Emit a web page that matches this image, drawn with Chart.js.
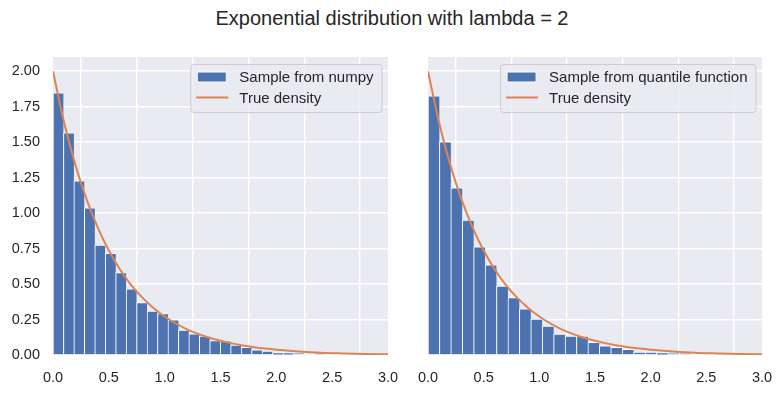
<!DOCTYPE html>
<html>
<head>
<meta charset="utf-8">
<script src="https://cdn.jsdelivr.net/npm/chart.js@4.4.0/dist/chart.umd.min.js"></script>
<style>
  html, body { margin: 0; padding: 0; background: #fff; }
  #wrap { position: relative; width: 784px; height: 393px; overflow: hidden; }
  #title { position: absolute; left: 0; top: 7px; width: 784px; text-align: center;
           font: 20px "Liberation Sans", Arial, sans-serif; color: #262626; }
  canvas { position: absolute; top: 0; }
  #leftChart { left: 0; }
  #rightChart { left: 400px; }
</style>
</head>
<body>
<div id="wrap">
  <div id="title">Exponential distribution with lambda = 2</div>
  <canvas id="leftChart" width="420" height="393"></canvas>
  <canvas id="rightChart" width="384" height="393"></canvas>
</div>
<script>
// histogram of the numpy sample (density), bins start at 0
const numpyBinWidth = 0.0936;
const numpyDensity = [1.847, 1.566, 1.228, 1.037, 0.775, 0.716, 0.580, 0.467, 0.370, 0.310,
  0.292, 0.248, 0.176, 0.150, 0.134, 0.101, 0.099, 0.070, 0.054, 0.037,
  0.028, 0.016, 0.016, 0.012, 0, 0.012];

// histogram of the quantile-function sample
const quantileBinWidth = 0.1026;
const quantileDensity = [1.826, 1.502, 1.178, 0.951, 0.763, 0.636, 0.486, 0.404, 0.325, 0.254,
  0.203, 0.148, 0.134, 0.134, 0.089, 0.064, 0.054, 0.040, 0.021, 0.021,
  0.016, 0.012, 0.010];

// true density curve
const densityX = [0, 0.1, 0.2, 0.3, 0.4, 0.5, 0.6, 0.7, 0.8, 0.9, 1.0, 1.1, 1.2, 1.3, 1.4,
  1.5, 1.6, 1.7, 1.8, 1.9, 2.0, 2.2, 2.4, 2.6, 2.8, 3.0];
const densityY = [2.0, 1.637, 1.341, 1.098, 0.899, 0.736, 0.602, 0.493, 0.404, 0.331, 0.271,
  0.222, 0.181, 0.149, 0.122, 0.100, 0.082, 0.067, 0.055, 0.045, 0.037, 0.025,
  0.016, 0.011, 0.007, 0.005];

const xTicks = [0, 0.5, 1.0, 1.5, 2.0, 2.5, 3.0];
const yTicks = [0, 0.25, 0.5, 0.75, 1.0, 1.25, 1.5, 1.75, 2.0];

const FONT = '"Liberation Sans", Arial, sans-serif';
const BLUE = '#4C72B0';
const ORANGE = '#DD8452';
const TEXT = '#262626';

// seaborn-style grey panel
const panelBg = {
  id: 'panelBg',
  beforeDraw(chart) {
    const { ctx, chartArea: ca } = chart;
    ctx.save();
    ctx.fillStyle = '#EAEAF2';
    ctx.fillRect(ca.left, ca.top, ca.right - ca.left, ca.bottom - ca.top);
    ctx.restore();
  }
};

// matplotlib-like legend box in the upper right corner
const legendBox = {
  id: 'legendBox',
  afterDraw(chart, args, opts) {
    const { ctx, chartArea: ca } = chart;
    ctx.save();
    ctx.font = '15px ' + FONT;
    const textW = Math.max(...opts.items.map(t => ctx.measureText(t).width));
    const w = 49 + textW + 8;
    const h = 48;
    const x = ca.right - 6.5 - w;
    const y = ca.top + 7;
    ctx.beginPath();
    ctx.roundRect(x + 0.5, y + 0.5, w, h, 3);
    ctx.fillStyle = 'rgba(234,234,242,0.8)';
    ctx.fill();
    ctx.strokeStyle = '#CCCCCC';
    ctx.lineWidth = 1;
    ctx.stroke();

    const row1 = y + 13, row2 = y + 33.5;
    ctx.fillStyle = BLUE;
    ctx.fillRect(x + 7, row1 - 5, 29, 10);
    ctx.strokeStyle = '#fff';
    ctx.strokeRect(x + 7, row1 - 5, 29, 10);
    ctx.beginPath();
    ctx.moveTo(x + 6, row2);
    ctx.lineTo(x + 38, row2);
    ctx.strokeStyle = ORANGE;
    ctx.lineWidth = 2;
    ctx.stroke();

    ctx.fillStyle = TEXT;
    ctx.textBaseline = 'middle';
    ctx.fillText(opts.items[0], x + 49, row1 + 1);
    ctx.fillText(opts.items[1], x + 49, row2 + 1);
    ctx.restore();
  }
};

function histPoints(binWidth, density) {
  return density.map((d, i) => ({ x: (i + 0.5) * binWidth, y: d }));
}

function makeChart(canvasId, binWidth, density, sampleLabel, showYLabels, yAxisWidth, padRight) {
  const ctx = document.getElementById(canvasId);
  return new Chart(ctx, {
    data: {
      datasets: [
        {
          type: 'line',
          label: 'True density',
          data: densityX.map((x, i) => ({ x: x, y: densityY[i] })),
          borderColor: ORANGE,
          borderWidth: 2,
          pointRadius: 0,
          cubicInterpolationMode: 'monotone',
          order: 1
        },
        {
          type: 'bar',
          label: sampleLabel,
          data: histPoints(binWidth, density),
          backgroundColor: BLUE,
          borderColor: '#ffffff',
          borderWidth: { top: 1, left: 1, right: 0, bottom: 0 },
          barPercentage: 1,
          categoryPercentage: 1,
          grouped: false,
          order: 2
        }
      ]
    },
    options: {
      responsive: false,
      animation: false,
      events: [],
      layout: { padding: { top: 57, right: padRight, left: 0, bottom: 0 } },
      plugins: {
        legend: { display: false },
        tooltip: { enabled: false },
        legendBox: { items: [sampleLabel, 'True density'] }
      },
      scales: {
        x: {
          type: 'linear',
          min: 0,
          max: 3,
          offset: false,
          border: { display: false },
          grid: { color: '#ffffff', lineWidth: 1.4, drawTicks: false },
          afterBuildTicks: s => { s.ticks = xTicks.map(v => ({ value: v })); },
          afterFit: s => { s.height = 38; s.paddingLeft = 0; s.paddingRight = 0; },
          ticks: {
            color: TEXT,
            padding: 14,
            font: { family: FONT, size: 14.5 },
            callback: v => v.toFixed(1)
          }
        },
        y: {
          min: 0,
          max: 2.1,
          border: { display: false },
          grid: { color: '#ffffff', lineWidth: 1.4, drawTicks: false },
          afterBuildTicks: s => { s.ticks = yTicks.map(v => ({ value: v })); },
          afterFit: s => { s.width = yAxisWidth; },
          ticks: {
            display: showYLabels,
            color: TEXT,
            padding: 13,
            font: { family: FONT, size: 14.5 },
            callback: v => v.toFixed(2)
          }
        }
      }
    },
    plugins: [panelBg, legendBox]
  });
}

makeChart('leftChart', numpyBinWidth, numpyDensity, 'Sample from numpy', true, 53, 32);
makeChart('rightChart', quantileBinWidth, quantileDensity, 'Sample from quantile function', false, 28, 22);
</script>
</body>
</html>
